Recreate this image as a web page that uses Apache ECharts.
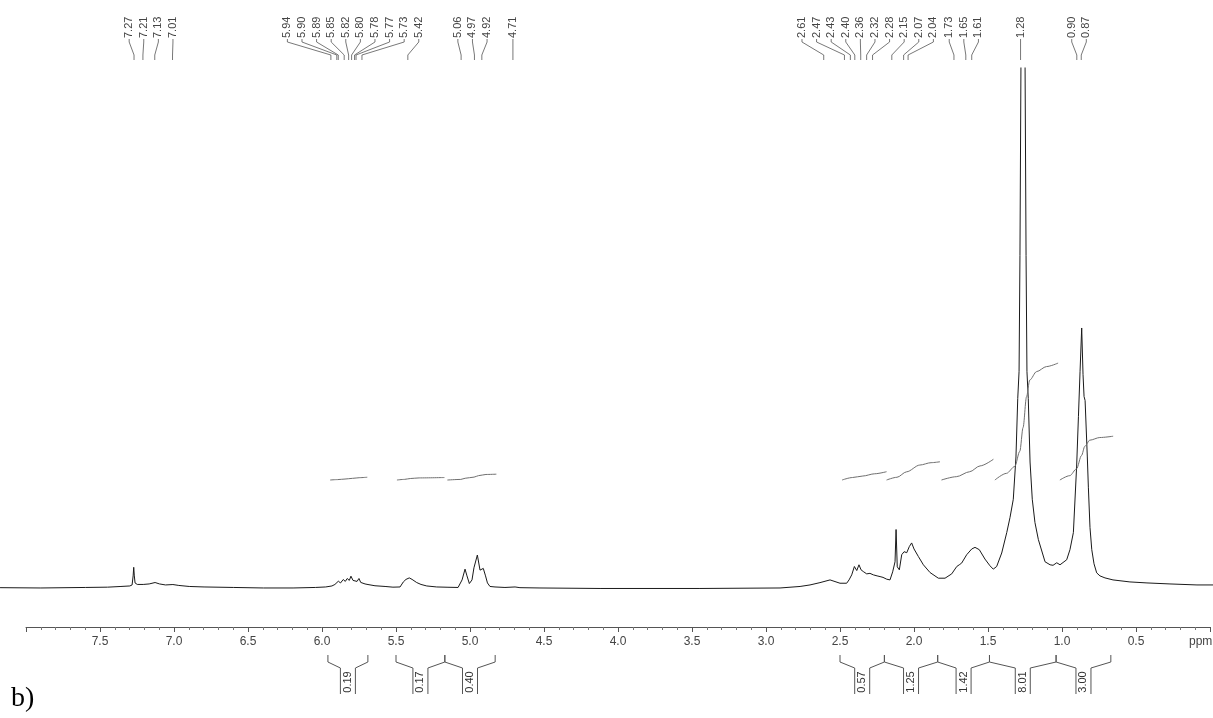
<!DOCTYPE html>
<html>
<head>
<meta charset="utf-8">
<title>1H NMR spectrum</title>
<script src="https://cdn.jsdelivr.net/npm/echarts@6/dist/echarts.min.js"></script>
<style>
  html, body { margin: 0; padding: 0; background: #fff; }
  #chart { width: 1213px; height: 718px; }
</style>
</head>
<body>
<div id="chart"></div>
<script>
// Chemical-shift axis (ppm, decreasing to the right)
const AXIS_MIN = 0;
const AXIS_MAX = 8;
const AXIS_STEP = 0.5;

// Spectrum trace: [ppm, intensity]
const SPECTRUM = [
  [8.175, 0.3], [7.90, 0], [7.60, 0.5], [7.45, 0.8], [7.36, 1.5], [7.30, 2], [7.285, 3],
  [7.278, 12], [7.274, 20.5], [7.270, 12], [7.265, 5], [7.25, 3.5], [7.21, 3.5], [7.17, 4],
  [7.13, 5.4], [7.10, 4], [7.06, 3], [7.01, 3.4], [6.97, 2.5], [6.90, 1.5], [6.80, 1],
  [6.60, 0.5], [6.40, 0], [6.20, 0], [6.05, 0.5], [5.98, 1],
  [5.938, 2], [5.918, 3.5], [5.895, 6.7], [5.880, 5], [5.862, 8.4], [5.848, 6.5], [5.835, 9.4],
  [5.821, 7.5], [5.810, 11.7], [5.796, 7.5], [5.783, 9.4], [5.769, 6.5], [5.756, 9.4],
  [5.744, 5.5], [5.734, 6.7], [5.715, 4], [5.695, 3.4], [5.648, 2.2], [5.580, 1.5], [5.527, 0.8],
  [5.479, 1], [5.457, 6], [5.439, 8.5], [5.417, 10], [5.398, 8.5], [5.367, 5.4], [5.338, 3.5],
  [5.299, 2], [5.232, 1], [5.156, 0.7], [5.088, 0.5],
  [5.075, 1], [5.061, 8], [5.041, 18.7], [5.028, 12], [5.012, 4.4], [4.994, 8], [4.981, 20],
  [4.958, 32.7], [4.940, 17.7], [4.918, 19.4], [4.903, 12], [4.890, 5], [4.873, 1.5],
  [4.839, 1], [4.772, 0.5], [4.704, 1], [4.671, 0.3], [4.536, 0], [4.131, -0.5], [3.458, -0.5],
  [2.918, 0], [2.783, 1.5], [2.716, 3], [2.649, 5.3], [2.581, 8], [2.514, 4.7], [2.469, 4.7],
  [2.453, 8], [2.435, 13], [2.417, 21.3], [2.401, 17.3], [2.386, 23], [2.372, 18], [2.357, 16.3],
  [2.334, 14], [2.312, 14.5], [2.289, 13], [2.264, 12], [2.244, 11.3], [2.224, 10.5], [2.199, 8.7],
  [2.177, 8], [2.159, 16], [2.143, 26], [2.136, 58], [2.128, 21], [2.114, 18], [2.098, 33],
  [2.082, 36], [2.064, 35], [2.047, 41], [2.031, 44.7], [2.015, 38.7], [1.986, 31.3], [1.952, 23],
  [1.907, 15.3], [1.851, 9.7], [1.806, 9.7], [1.761, 14], [1.727, 21.3], [1.710, 23], [1.694, 24.7],
  [1.660, 33], [1.626, 38.7], [1.604, 40.3], [1.575, 38], [1.537, 28.7], [1.503, 22], [1.481, 18.7],
  [1.458, 21.3], [1.424, 34.7], [1.390, 55], [1.368, 70], [1.346, 88], [1.328, 130], [1.316, 188],
  [1.307, 215], [1.301, 330], [1.294, 530], [1.287, 800], [1.281, 1000], [1.274, 800], [1.267, 530],
  [1.260, 330], [1.254, 215], [1.245, 188], [1.233, 125], [1.218, 88], [1.200, 65], [1.177, 48],
  [1.132, 26], [1.098, 23], [1.078, 22.5], [1.053, 25], [1.031, 23], [0.986, 28], [0.964, 38],
  [0.941, 55], [0.919, 121], [0.907, 170], [0.896, 215], [0.885, 258], [0.876, 212], [0.869, 190],
  [0.862, 186], [0.856, 186], [0.847, 130], [0.840, 100], [0.829, 60], [0.817, 38], [0.802, 24],
  [0.784, 15], [0.762, 12], [0.728, 10], [0.674, 8], [0.560, 6], [0.445, 5], [0.290, 4],
  [0.108, 3], [0.0, 3]
];

// Picked peaks (ppm)
const PEAK_LABELS = [
  7.27, 7.21, 7.13, 7.01,
  5.94, 5.90, 5.89, 5.85, 5.82, 5.80, 5.78, 5.77, 5.73, 5.42,
  5.06, 4.97, 4.92, 4.71,
  2.61, 2.47, 2.43, 2.40, 2.36, 2.32, 2.28, 2.15, 2.07, 2.04,
  1.73, 1.65, 1.61, 1.28, 0.90, 0.87
];

// Integration regions [from, to] (ppm) and their integrals
const INTEGRAL_RANGES = [
  [5.96, 5.69], [5.50, 5.17], [5.17, 4.83],
  [2.50, 2.20], [2.20, 1.84], [1.84, 1.49], [1.49, 1.04], [1.04, 0.67]
];
const INTEGRAL_VALUES = [0.19, 0.17, 0.40, 0.57, 1.25, 1.42, 8.01, 3.00];

// Running-integral traces: [ppm, fraction of the region's integral]
const INTEGRAL_TRACES = [
  [[5.95, 0], [5.90, 0.15], [5.85, 0.35], [5.80, 0.6], [5.75, 0.85], [5.70, 1]],
  [[5.50, 0], [5.45, 0.25], [5.41, 0.6], [5.35, 0.85], [5.18, 1]],
  [[5.16, 0], [5.07, 0.1], [5.04, 0.3], [4.98, 0.5], [4.95, 0.75], [4.90, 0.95], [4.83, 1]],
  [[2.50, 0], [2.43, 0.3], [2.36, 0.48], [2.28, 0.75], [2.20, 1]],
  [[2.20, 0], [2.13, 0.15], [2.065, 0.45], [1.976, 0.82], [1.90, 0.95], [1.84, 1]],
  [[1.83, 0], [1.73, 0.16], [1.64, 0.4], [1.57, 0.68], [1.48, 1]],
  [[1.47, 0], [1.392, 0.057], [1.336, 0.116], [1.302, 0.246], [1.280, 0.449], [1.257, 0.71],
   [1.235, 0.855], [1.189, 0.927], [1.122, 0.97], [1.044, 1]],
  [[1.032, 0], [0.965, 0.1], [0.92, 0.254], [0.886, 0.56], [0.864, 0.77], [0.83, 0.91],
   [0.763, 0.97], [0.673, 1]]
];

const FONT = '"Liberation Sans", Arial, sans-serif';
const AXIS_LEFT = 26;
const CHART_W = 1213;
// The trace runs from the left border; extend its scale so both grids share one mapping.
const SPEC_MAX = AXIS_MAX * CHART_W / (CHART_W - AXIS_LEFT);

const chart = echarts.init(document.getElementById('chart'), null, { renderer: 'canvas' });

const integralSeries = INTEGRAL_TRACES.map((trace, i) => ({
  type: 'line',
  xAxisIndex: 0,
  yAxisIndex: 1,
  showSymbol: false,
  smooth: 0.3,
  smoothMonotone: 'x',
  silent: true,
  lineStyle: { color: '#6f6f6f', width: 1 },
  data: trace.map(([p, f]) => [p, INTEGRAL_VALUES[i] * f])
}));

const bracketSeries = {
  type: 'custom',
  xAxisIndex: 1,
  yAxisIndex: 2,
  silent: true,
  data: INTEGRAL_RANGES.map((r, i) => [r[0], r[1], INTEGRAL_VALUES[i]]),
  renderItem(params, api) {
    const p0 = api.coord([api.value(0), 0]);
    const x0 = p0[0];
    const x1 = api.coord([api.value(1), 0])[0];
    const base = p0[1];
    const yTop = base + 28, yEnd = base + 35, yBox = base + 41, yBot = base + 67;
    const cx = (x0 + x1) / 2, hw = 7.5;
    const stroke = { stroke: '#555', fill: null, lineWidth: 1 };
    return {
      type: 'group',
      children: [
        { type: 'polyline', shape: { points: [[x0, yTop], [x0, yEnd], [cx - hw, yBox], [cx - hw, yBot]] }, style: stroke },
        { type: 'polyline', shape: { points: [[cx + hw, yBot], [cx + hw, yBox], [x1, yEnd], [x1, yTop]] }, style: stroke },
        {
          type: 'text', x: cx, y: (yBox + yBot) / 2 + 1, rotation: Math.PI / 2,
          style: { text: api.value(2).toFixed(2), fill: '#333', font: '11px ' + FONT, align: 'center', verticalAlign: 'middle' }
        }
      ]
    };
  }
};

const option = {
  animation: false,
  backgroundColor: '#ffffff',
  grid: [
    { left: 0, right: 0, top: 68, bottom: 126 },
    { left: AXIS_LEFT, right: 0, top: 68, bottom: 91 }
  ],
  xAxis: [
    { type: 'value', gridIndex: 0, min: AXIS_MIN, max: SPEC_MAX, inverse: true, show: false },
    {
      type: 'value', gridIndex: 1, min: AXIS_MIN, max: AXIS_MAX, interval: AXIS_STEP, inverse: true,
      axisLine: { show: true, onZero: false, lineStyle: { color: '#555', width: 1 } },
      axisTick: { show: true, length: 5, lineStyle: { color: '#555' } },
      minorTick: { show: true, splitNumber: 5, length: 3, lineStyle: { color: '#777' } },
      splitLine: { show: false },
      axisLabel: {
        margin: 9, color: '#444', fontSize: 12, fontFamily: FONT,
        formatter: v => (v <= AXIS_MIN + 1e-6 || v >= AXIS_MAX - 1e-6) ? '' : v.toFixed(1)
      }
    }
  ],
  yAxis: [
    { type: 'value', gridIndex: 0, min: -4, max: 516, show: false },
    { type: 'value', gridIndex: 0, min: -7.67, max: 28.22, show: false },
    { type: 'value', gridIndex: 1, min: 0, max: 1, show: false }
  ],
  graphic: [
    { type: 'text', left: 1189, top: 636, style: { text: 'ppm', fill: '#444', font: '12px ' + FONT } },
    { type: 'text', left: 11, top: 685, style: { text: 'b)', fill: '#000', font: '28px "Liberation Serif", "Times New Roman", serif' } }
  ],
  series: [
    {
      type: 'line',
      xAxisIndex: 0,
      yAxisIndex: 0,
      showSymbol: false,
      clip: true,
      silent: true,
      lineStyle: { color: '#1a1a1a', width: 1 },
      data: SPECTRUM
    },
    ...integralSeries,
    bracketSeries
  ]
};

chart.setOption(option);

// Spread crowded peak labels into evenly spaced groups centred on their peaks.
function spreadLabels(xs, gap) {
  let clusters = xs.map((x, i) => ({ idx: [i], center: x }));
  let merged = true;
  while (merged) {
    merged = false;
    for (let i = 0; i < clusters.length - 1; i++) {
      const a = clusters[i], b = clusters[i + 1];
      const aEnd = a.center + (a.idx.length - 1) / 2 * gap;
      const bStart = b.center - (b.idx.length - 1) / 2 * gap;
      if (bStart - aEnd < gap) {
        const idx = a.idx.concat(b.idx);
        const center = idx.reduce((s, k) => s + xs[k], 0) / idx.length;
        clusters.splice(i, 2, { idx, center });
        merged = true;
        break;
      }
    }
  }
  const out = [];
  clusters.forEach(c => c.idx.forEach((k, j) => {
    out[k] = c.center + (j - (c.idx.length - 1) / 2) * gap;
  }));
  return out;
}

const peakPx = PEAK_LABELS.map(p => chart.convertToPixel({ xAxisIndex: 1 }, p));
const labelPx = spreadLabels(peakPx, 14.6);
const labelPpm = labelPx.map(x => chart.convertFromPixel({ xAxisIndex: 1 }, x));

chart.setOption({
  series: option.series.concat([{
    type: 'custom',
    xAxisIndex: 1,
    yAxisIndex: 2,
    silent: true,
    data: PEAK_LABELS.map((p, i) => [p, labelPpm[i]]),
    renderItem(params, api) {
      const top = api.coord([api.value(0), 1])[1];
      const px = api.coord([api.value(0), 1])[0];
      const lx = api.coord([api.value(1), 1])[0];
      return {
        type: 'group',
        children: [
          {
            type: 'polyline',
            shape: { points: [[lx, top - 29], [lx, top - 26], [px, top - 13], [px, top - 8]] },
            style: { stroke: '#555', fill: null, lineWidth: 0.8 }
          },
          {
            type: 'text', x: lx, y: top - 30, rotation: Math.PI / 2,
            style: {
              text: PEAK_LABELS[params.dataIndex].toFixed(2), fill: '#444',
              font: '11px ' + FONT, align: 'left', verticalAlign: 'middle'
            }
          }
        ]
      };
    }
  }])
});
</script>
</body>
</html>
